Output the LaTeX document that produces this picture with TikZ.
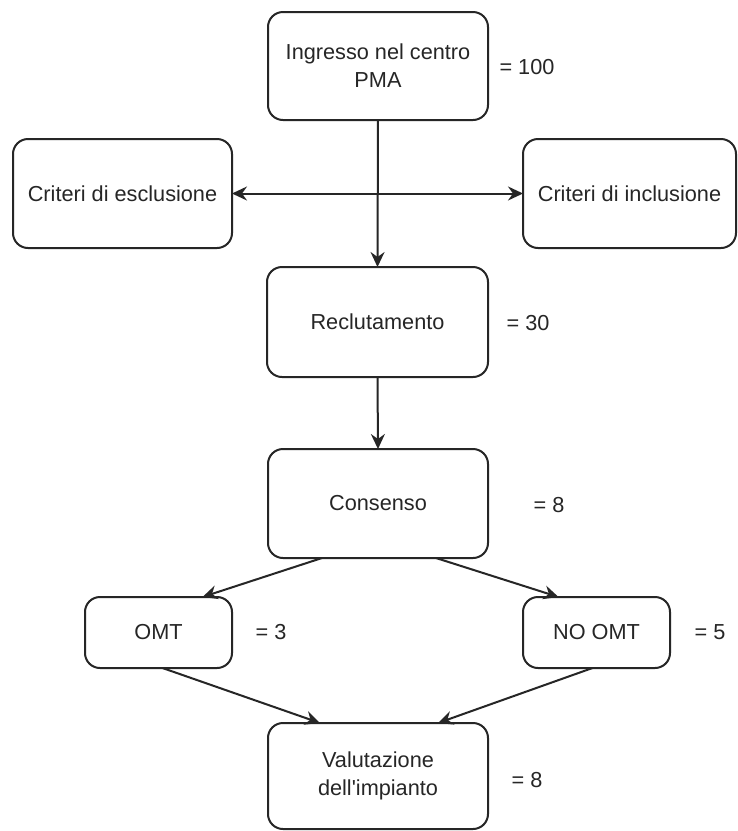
\documentclass[tikz,border=0pt]{standalone}
\usepackage{fontspec}
\setmainfont{Liberation Sans}
\usetikzlibrary{arrows.meta,calc}
\begin{document}
\begin{tikzpicture}[x=1pt,y=-1pt,
  box/.style={draw=black!85,line width=2pt,rounded corners=15pt,inner sep=0pt,outer sep=0pt,
    align=center,font=\fontsize{21.7}{28}\selectfont,text=black!85},
  lbl/.style={inner sep=0pt,font=\fontsize{21.7}{28}\selectfont,text=black!85},
  tip/.tip={Stealth[length=15pt,width=14pt,inset=5pt]},
  conn/.style={line width=2pt,draw=black!85,-tip}]
\useasboundingbox (0,0) rectangle (738,831);
\fill[white] (0,0) rectangle (738,831);
\node[box,minimum width=220pt,minimum height=108pt] (top) at (378,66) {Ingresso nel centro\\PMA};
\node[box,minimum width=219pt,minimum height=109pt] (excl) at (122.5,193.5) {Criteri di esclusione};
\node[box,minimum width=213pt,minimum height=109pt] (incl) at (629.5,193.5) {Criteri di inclusione};
\node[box,minimum width=221pt,minimum height=110pt] (recl) at (377.5,322) {Reclutamento};
\node[box,minimum width=220pt,minimum height=109pt] (cons) at (378,503.5) {Consenso};
\node[box,minimum width=147pt,minimum height=71pt] (omt) at (158.5,632.5) {OMT};
\node[box,minimum width=147pt,minimum height=71pt] (noomt) at (596.5,632.5) {NO OMT};
\node[box,minimum width=220pt,minimum height=106pt] (val) at (378,776) {Valutazione\\dell\textquotesingle impianto};
\node[lbl] (l1) at (527,67) {= 100};
\node[lbl] (l2) at (528,323) {= 30};
\node[lbl] (l3) at (549,505) {= 8};
\node[lbl] (l4) at (271,632) {= 3};
\node[lbl] (l5) at (710,632) {= 5};
\node[lbl] (l6) at (527,780) {= 8};
\draw[conn] (top.south) -- (recl.north);
\draw[conn,tip-tip] (excl.east) -- (incl.west);
\draw[conn] (recl.south) -- (cons.north);
\draw[conn] ($(cons.south)+(-56,0)$) -- ($(omt.north)+(44,0)$);
\draw[conn] ($(cons.south)+(58,0)$) -- ($(noomt.north)+(-38,0)$);
\draw[conn] ($(omt.south)+(4,0)$) -- ($(val.north)+(-58,0)$);
\draw[conn] ($(noomt.south)+(-4,0)$) -- ($(val.north)+(60,0)$);
\end{tikzpicture}
\end{document}
